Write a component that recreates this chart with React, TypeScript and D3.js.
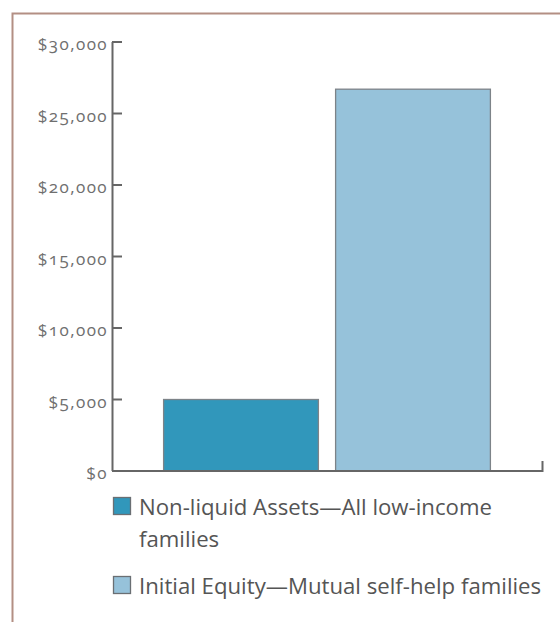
import React from "react";
import * as d3 from "d3";

const categories = [
  "Non-liquid Assets—All low-income families",
  "Initial Equity—Mutual self-help families",
];
const values = [5000, 26700];
const barColors = ["#3197bb", "#96c2da"];
const legendLines = [
  ["Non-liquid Assets—All low-income", "families"],
  ["Initial Equity—Mutual self-help families"],
];
const yTicks = [0, 5000, 10000, 15000, 20000, 25000, 30000];

const W = 560;
const H = 622;

export default function App() {
  const y = d3.scaleLinear().domain([0, 30000]).range([471, 42]);
  const x = d3
    .scaleBand<string>()
    .domain(categories)
    .range([112, 542])
    .paddingInner(0.1)
    .paddingOuter(0.3);
  const fmt = (v: number) => "$" + d3.format(",")(v);
  const axisColor = "#666";
  const legendTop = [497, 576];

  return (
    <svg
      width={W}
      height={H}
      style={{ position: "absolute", left: 0, top: 0, background: "#fff" }}
    >
      {/* frame */}
      <path d={`M12.5,${H} V13.5 H${W}`} fill="none" stroke="#b38f84" strokeWidth={2} />

      {/* bars */}
      {categories.map((c, i) => (
        <rect
          key={c}
          x={x(c)!}
          y={y(values[i])}
          width={x.bandwidth()}
          height={y(0) - y(values[i])}
          fill={barColors[i]}
          stroke="#7d8388"
          strokeWidth={1.3}
        />
      ))}

      {/* y axis */}
      <line x1={112.5} x2={112.5} y1={y(30000)} y2={y(0)} stroke={axisColor} strokeWidth={2} />
      {yTicks.map((t) => (
        <g key={t}>
          <line x1={112} x2={122} y1={y(t)} y2={y(t)} stroke={axisColor} strokeWidth={2} />
          <text
            x={108}
            y={y(t) + 8}
            textAnchor="end"
            fontFamily="'Open Sans', sans-serif"
            fontSize={17}
            letterSpacing={1.4}
            fill="#6f6f6f"
            style={{ fontVariantNumeric: "oldstyle-nums" }}
          >
            {fmt(t)}
          </text>
        </g>
      ))}

      {/* x axis */}
      <path
        d={`M112,${y(0)} H542.5 V${y(0) - 10}`}
        fill="none"
        stroke={axisColor}
        strokeWidth={2}
      />

      {/* legend */}
      {categories.map((c, i) => (
        <g key={c}>
          <rect
            x={113.5}
            y={legendTop[i] + 0.5}
            width={17}
            height={17}
            fill={barColors[i]}
            stroke="#6a6f73"
            strokeWidth={1.3}
          />
          <text
            fontFamily="'Open Sans', sans-serif"
            fontSize={22.2}
            fill="#555"
          >
            {legendLines[i].map((line, j) => (
              <tspan key={j} x={139} y={legendTop[i] + 18 + j * 32}>
                {line}
              </tspan>
            ))}
          </text>
        </g>
      ))}
    </svg>
  );
}
